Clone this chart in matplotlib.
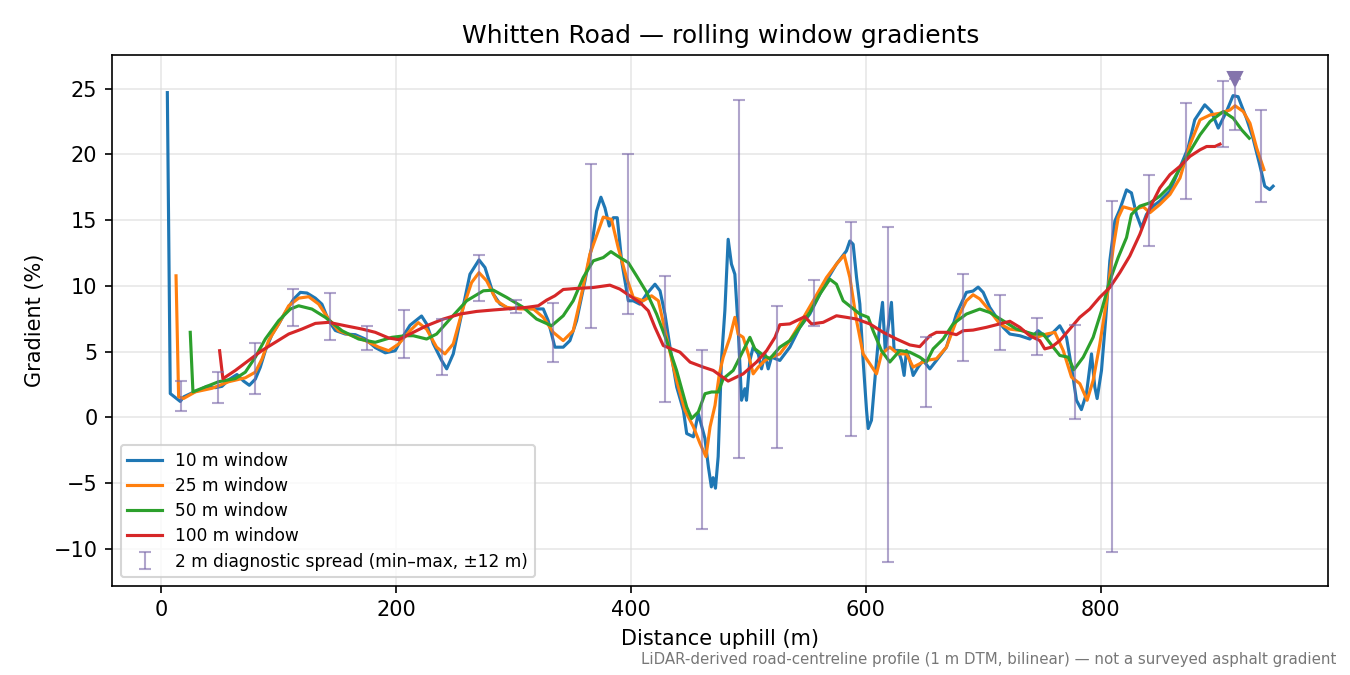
import matplotlib
matplotlib.use("Agg")
import matplotlib.pyplot as plt

# 10 m window
d10 = [5.4, 7.9, 12.1, 16.4, 19.3, 26.4, 32, 39.1, 46.2, 51.9, 57.6, 64.7, 70.3, 75.2, 80.3,
       84.5, 88.8, 94.5, 100.2, 105.8, 112.9, 118.6, 124.3, 131.4, 137, 142.7, 148.4, 156.9,
       165.4, 173.9, 182.4, 190.9, 199.4, 205, 212, 221.8, 226.1, 231.8, 238.9, 243.2, 248.8,
       255.9, 263, 270.7, 275.8, 282.9, 288.6, 297.1, 305.5, 316.9, 325.4, 329.6, 335.3, 342.4,
       348.1, 353.8, 360.9, 366.5, 370.8, 374.5, 377.9, 381.6, 385, 388.4, 392.1, 397.8, 402,
       407.7, 413.4, 420.5, 424.8, 429, 433.3, 439, 444.7, 447.5, 453.2, 457.4, 463, 466, 468.5,
       470, 472, 474.3, 477.1, 480, 482.8, 485.6, 488.5, 491.3, 494.2, 497, 498.4, 501.3, 504.1,
       508.4, 511.2, 514.1, 516.9, 519.7, 526.8, 535.3, 543.8, 552.3, 560.9, 566.5, 575, 583.5,
       586.4, 589.2, 592.1, 594.9, 597.7, 600.6, 602, 604.8, 609.1, 611.9, 614.2, 616.5, 619,
       621.8, 624.1, 627.5, 630.4, 632.6, 634.6, 637.4, 640.3, 644.5, 648.8, 654.5, 660.1, 668.6,
       677.1, 685.6, 691.3, 695.6, 699.9, 705.5, 711.2, 716.9, 722.6, 731.1, 739.6, 746.7, 753.8,
       759.5, 765.1, 770.8, 775.1, 779.3, 783.5, 787.8, 792.1, 794.9, 796.9, 800.6, 804.3, 807.7,
       812, 816.2, 821.9, 826.1, 830.4, 834.6, 838.9, 844.5, 850.2, 858.7, 867.2, 874.3, 880,
       888.5, 894.2, 900, 907, 912.6, 916.9, 924, 929.6, 935.3, 939.6, 943.8, 946.7]
g10 = [24.7, 1.8, 1.5, 1.2, 1.55, 1.85, 2.05, 2.35, 2.25, 2.35, 2.85, 3.25, 2.75, 2.43, 2.9,
       3.8, 5.06, 6.3, 7.1, 7.97, 8.98, 9.5, 9.45, 9.06, 8.6, 7.35, 6.6, 6.33,
       6.28, 5.95, 5.3, 4.9, 5.06, 6.0, 7.0, 7.7, 7.1, 5.6, 4.32, 3.68, 4.82,
       7.85, 10.88, 11.97, 11.39, 9.37, 8.61, 8.24, 8.36, 8.24, 8.24, 7.35, 5.33, 5.33,
       5.83, 7.35, 10.38, 12.9, 15.68, 16.74, 15.93, 14.55, 15.18, 15.18, 11.9, 8.86, 8.86,
       8.6, 9.37, 10.12, 9.62, 7.85, 5.33, 2.3, 0.53, -1.24, -1.49, 0.28, -1.6, -3.8, -5.3,
       -4.6, -5.4, -3.0, 4.32, 8.1, 13.54, 11.65, 10.88, 6.84, 1.29, 2.17, 1.29, 4.32, 5.33,
       4.82, 3.68, 4.82, 3.68, 4.57, 4.32, 5.33, 6.84, 7.85, 9.37, 10.38, 11.65, 12.66,
       13.41, 13.16, 10.63, 8.61, 4.32, 0.53, -0.86, -0.23, 4.32, 7.1, 8.74, 5.08, 6.84,
       8.74, 5.08, 5.08, 4.32, 3.18, 5.08, 4.32, 3.18, 3.81, 4.32, 3.68, 4.32, 5.33,
       7.85, 9.5, 9.6, 9.9, 9.5, 8.36, 7.6, 6.84, 6.33, 6.2, 5.95, 6.58, 6.08,
       6.46, 6.96, 6.08, 3.81, 1.29, 0.58, 1.79, 4.82, 2.3, 1.42, 3.56, 7.6, 11.9,
       14.93, 15.8, 17.3, 17.07, 15.43, 14.42, 15.43, 16.06, 16.44, 17.2, 18.96, 20.48, 22.63,
       23.77, 23.26, 22.0, 23.26, 24.47, 24.39, 22.75, 21.23, 19.2, 17.58, 17.32, 17.58]

# 25 m window
d25 = [12.8, 15, 19.3, 29.2, 43.4, 57.6, 71.8, 80.3, 86, 91.6, 100.2, 108.7, 117.2, 125.7,
       134.2, 142.7, 151.2, 162.6, 173.9, 185.3, 193.8, 202.3, 212, 219, 226.1, 234.6, 241.7,
       248.8, 257.3, 264.4, 270.7, 277.2, 285.7, 294.2, 305.5, 316.9, 325.4, 333.9, 342.4,
       350.9, 358, 365.1, 372.2, 376.5, 383.5, 389.2, 396.3, 402, 410.5, 417.6, 423.4, 430.4,
       438.9, 446, 453.2, 458.8, 463.9, 467.4, 471.6, 475.3, 478.6, 484.3, 488.5, 491.3, 495.6,
       499.9, 504.1, 508.4, 514.1, 519.7, 526.8, 535.3, 543.8, 555.2, 566.5, 575, 581.6, 586.4,
       592.1, 597.7, 603.4, 609.1, 613.3, 620.4, 627.5, 634.6, 640.3, 645.9, 651.6, 660.1,
       668.6, 677.1, 685.6, 691.3, 697, 705.5, 714, 722.6, 733.9, 745.3, 753.8, 760.9, 768,
       775.1, 782.2, 788.4, 793.5, 799.2, 804.9, 810.6, 814.8, 819.1, 827.7, 836.2, 841.8,
       850.3, 858.9, 867.4, 875.9, 884.5, 893, 901.5, 910, 914.3, 921.3, 927, 932.7, 938.9]
g25 = [10.76, 1.55, 1.43, 1.93, 2.2, 2.7, 3.0, 3.43, 4.44, 5.83, 7.1, 8.48, 9.06, 9.17,
       8.61, 7.47, 6.58, 6.2, 5.83, 5.33, 5.06, 5.57, 6.58, 7.2, 6.7, 5.33, 4.82,
       5.58, 8.36, 10.25, 11.0, 10.38, 8.86, 8.36, 8.24, 8.24, 7.6, 6.46, 5.83,
       6.58, 9.37, 12.4, 14.17, 15.23, 15.05, 12.9, 10.63, 9.12, 8.86, 9.24, 8.86, 6.08,
       2.8, 0.53, -0.73, -1.99, -3.0, -0.73, 0.9, 3.3, 4.57, 6.08, 7.6, 6.33, 6.08,
       4.82, 3.3, 3.81, 4.32, 4.57, 4.82, 5.83, 7.1, 8.86, 10.63, 11.65, 12.33, 10.63,
       7.35, 4.82, 4.07, 3.3, 4.82, 5.33, 4.82, 4.82, 3.81, 4.07, 4.32, 4.45,
       5.33, 7.35, 8.86, 9.32, 9.0, 8.1, 7.1, 6.7, 6.58, 6.08, 6.33, 6.46, 5.08,
       3.05, 2.55, 1.29, 2.8, 5.58, 8.86, 12.9, 15.18, 16.01, 15.8, 16.01, 15.56,
       16.19, 16.95, 18.2, 20.73, 22.63, 23.0, 23.13, 23.38, 23.7, 23.26, 22.37, 20.48, 18.84]

# 50 m window
d50 = [24.9, 27.2, 34.8, 49, 63.3, 71.8, 80.3, 88.8, 100.2, 110.1, 117.2, 128.5, 139.9,
       154.1, 168.2, 182.4, 196.6, 207.9, 214.8, 226.1, 234.6, 246, 260.2, 274.4, 282.9, 294.2,
       308.4, 319.7, 332.5, 342.4, 350.9, 359.4, 368, 376.5, 383, 390.6, 397.7, 404.8, 413.4,
       421.9, 430.4, 438.9, 447.5, 451.7, 457.4, 463.1, 468.7, 474.4, 478.6, 487.1, 494.2,
       501.3, 505.5, 511.2, 518.3, 526.8, 535.3, 543.8, 552.3, 560.9, 569.4, 575, 580.7, 587.8,
       594.9, 602, 606.2, 613.3, 620.4, 628.9, 637.4, 645.9, 651.6, 657.3, 665.8, 674.3, 685.6,
       697, 705.5, 714, 728.2, 742.4, 751, 759.5, 765.1, 772.2, 777.1, 785.1, 793.5, 800.6,
       807.7, 814.8, 821.9, 826.1, 833.2, 841.8, 850.3, 858.9, 867.4, 875.9, 884.5, 893,
       904.3, 912.8, 919.9, 926.4]
g50 = [6.46, 1.93, 2.2, 2.7, 2.94, 3.43, 4.57, 5.95, 7.35, 8.23, 8.48, 8.23, 7.6,
       6.58, 5.95, 5.7, 6.08, 6.2, 6.2, 5.95, 6.33, 7.47, 8.86, 9.62, 9.67, 9.12,
       8.36, 7.47, 6.96, 7.72, 8.86, 10.63, 11.9, 12.15, 12.6, 12.15, 11.77, 10.76, 9.5,
       7.85, 5.83, 3.56, 0.78, -0.1, 0.4, 1.79, 1.92, 1.92, 2.93, 3.56, 4.82,
       6.08, 5.2, 4.82, 4.45, 5.33, 5.83, 6.84, 7.98, 9.37, 10.5, 10.12, 8.86, 8.36,
       7.85, 7.6, 6.58, 5.07, 4.2, 5.07, 4.95, 4.57, 4.2, 5.2, 5.95, 7.1, 7.85,
       8.23, 7.97, 7.5, 6.71, 6.33, 6.33, 5.33, 4.7, 4.57, 3.61, 4.57, 6.08, 8.1,
       10.38, 12.15, 13.67, 15.43, 16.06, 16.31, 16.82, 17.58, 18.96, 20.22, 21.49, 22.5,
       23.26, 22.75, 21.87, 21.23]

# 100 m window
d100 = [49.9, 52.7, 63.3, 74.6, 86, 97.3, 108.7, 120, 131.4, 142.7, 156.9, 171.1, 182.4,
        193.8, 202.3, 214.8, 226.1, 240.3, 254.5, 268.7, 282.9, 297.1, 311.3, 321.2, 328.3,
        335.3, 342.4, 353.8, 368, 382.1, 390.6, 399.1, 407.7, 414.8, 420.5, 427.6, 434.7,
        441.8, 450.4, 461.7, 470.1, 482.8, 495.6, 507, 515.6, 522.7, 526.8, 535.3, 541, 548.1,
        553.8, 563.7, 575, 583.5, 592.1, 603.4, 614.8, 626.1, 637.4, 645.9, 654.5, 660.1, 668.6,
        677.1, 682.8, 691.3, 702.6, 714, 722.6, 731.1, 739.6, 748.1, 752.3, 758, 765.1, 773.6,
        782.1, 790.6, 799.1, 807.7, 816.2, 824.7, 833.2, 841.8, 850.3, 858.9, 867.4, 875.9,
        884.5, 890.1, 897.2, 901.5]
g100 = [5.06, 2.93, 3.56, 4.32, 5.08, 5.7, 6.33, 6.71, 7.14, 7.22, 6.96, 6.71, 6.46,
        6.03, 5.9, 6.46, 6.96, 7.47, 7.85, 8.05, 8.16, 8.26, 8.36, 8.48, 8.91,
        9.24, 9.72, 9.8, 9.87, 10.05, 9.75, 9.24, 8.73, 8.1, 6.84, 5.45, 5.2,
        4.95, 4.19, 3.81, 3.56, 2.75, 3.3, 4.2, 5.07, 6.08, 7.04, 7.1, 7.35, 7.65,
        7.1, 7.22, 7.72, 7.6, 7.47, 7.1, 6.46, 5.95, 5.5, 5.37, 6.2, 6.46, 6.46,
        6.28, 6.58, 6.63, 6.84, 7.1, 7.3, 6.84, 6.2, 5.83, 5.2, 5.33, 5.83, 6.71,
        7.6, 8.23, 9.12, 9.87, 11.0, 12.27, 13.91, 15.93, 17.45, 18.46, 19.09, 19.85,
        20.35, 20.6, 20.6, 20.78]

# 2 m diagnostic spread (min / max within +-12 m)
err_x = [17, 48.6, 80.2, 112, 143.6, 175, 206.8, 238.9, 270.6, 301.9, 333.4, 365.7, 397.7,
         429, 460.4, 491.9, 524, 555.7, 587.2, 619, 651, 682.6, 714.3, 745.8, 778, 809.4,
         841, 872.3, 903.8, 914, 936]
err_lo = [0.48, 1.08, 1.79, 6.92, 5.88, 5.1, 4.52, 3.2, 8.86, 7.9, 4.19, 6.77, 7.83, 1.16,
          -8.53, -3.08, -2.32, 6.97, -1.41, -11.0, 0.78, 4.27, 5.1, 4.72, -0.13, -10.25,
          13.05, 16.62, 20.55, 21.87, 16.36]
err_hi = [2.75, 3.43, 5.63, 9.77, 9.42, 6.97, 8.13, 7.5, 12.35, 8.91, 8.71, 19.24, 20.0,
          10.76, 5.15, 24.17, 8.48, 10.45, 14.85, 14.5, 6.09, 10.93, 9.32, 7.52, 7.05, 16.44,
          18.41, 23.94, 25.6, 25.7, 23.4]

# steepest point marker
peak_x = 914
peak_g = 25.7

fig, ax = plt.subplots(figsize=(9, 4.5), dpi=150)
fig.subplots_adjust(left=0.083, right=0.984, top=0.918, bottom=0.132)

ax.plot(d10, g10, color="tab:blue", lw=1.5, label="10 m window")
ax.plot(d25, g25, color="tab:orange", lw=1.5, label="25 m window")
ax.plot(d50, g50, color="tab:green", lw=1.5, label="50 m window")
ax.plot(d100, g100, color="tab:red", lw=1.5, label="100 m window")

mid = [(lo + hi) / 2 for lo, hi in zip(err_lo, err_hi)]
half = [(hi - lo) / 2 for lo, hi in zip(err_lo, err_hi)]
ax.errorbar(err_x, mid, yerr=half, fmt="none", ecolor="#7c6aaa", alpha=0.6,
            elinewidth=1, capsize=3, label="2 m diagnostic spread (min\u2013max, \u00b112 m)")
ax.plot([peak_x], [peak_g], marker="v", ms=7, color="#8474ac", ls="none")

ax.grid(True, color="#dddddd", lw=0.8, alpha=0.7)
ax.set_axisbelow(True)
ax.set_title("Whitten Road \u2014 rolling window gradients", fontsize=12)
ax.set_xlabel("Distance uphill (m)")
ax.set_ylabel("Gradient (%)")
ax.set_xticks([0, 200, 400, 600, 800])
ax.legend(loc="lower left", fontsize=8.2, labelspacing=0.42)

fig.text(0.99, 0.012,
         "LiDAR-derived road-centreline profile (1 m DTM, bilinear) \u2014 not a surveyed asphalt gradient",
         ha="right", va="bottom", fontsize=7.2, color="#777777")

fig.savefig("out.png", dpi=150)
